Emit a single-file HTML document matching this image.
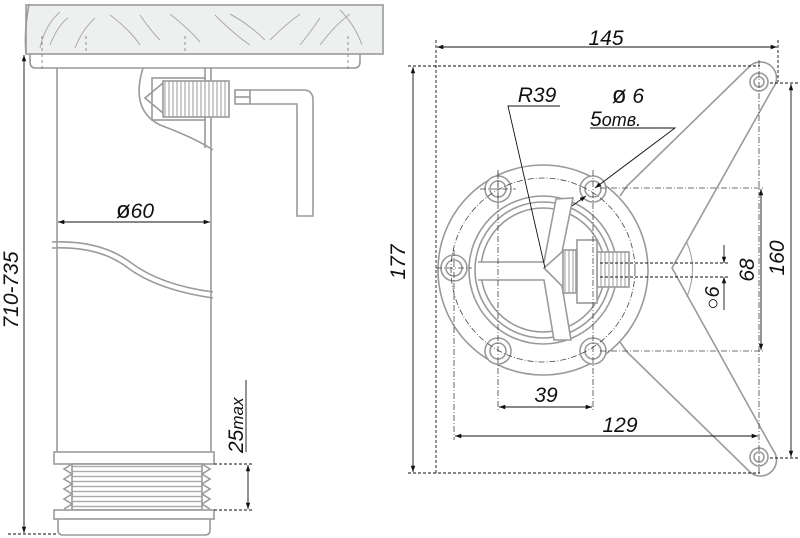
<!DOCTYPE html>
<html><head><meta charset="utf-8"><style>
html,body{margin:0;padding:0;background:#fff;}
svg{display:block;}
text{font-family:"Liberation Sans",sans-serif;font-style:italic;fill:#111;}
</style></head><body>
<svg width="800" height="538" viewBox="0 0 800 538" xmlns="http://www.w3.org/2000/svg">
<defs>
<marker id="a" viewBox="0 0 10 10" refX="10" refY="5" markerWidth="7" markerHeight="7" orient="auto-start-reverse"><path d="M0,1.5 L10,5 L0,8.5z" fill="#111"/></marker>
<pattern id="th" width="4" height="4" patternUnits="userSpaceOnUse"><rect width="4" height="4" fill="#fff"/><line x1="1" y1="0" x2="1" y2="4" stroke="#aaa" stroke-width="1.2"/></pattern>
<pattern id="thh" width="6" height="5" patternUnits="userSpaceOnUse"><rect width="6" height="5" fill="#fff"/><line x1="0" y1="1.5" x2="6" y2="1.5" stroke="#aaa" stroke-width="1.4"/></pattern>
</defs>
<g fill="none" stroke="#9a9a9a" stroke-width="1.6">
<rect x="26" y="5" width="357" height="49" fill="#eef0ef"/>
<path d="M29 4 Q24 30 26 54" />
<path d="M30 54 V62 Q30 68 36 68 H354 Q360 68 360 62 V54"/>
<g stroke="#aaa" stroke-width="1">
<path d="M40 48 Q45 25 60 12 M50 45 Q58 25 68 18 M75 48 Q82 30 95 18 M110 15 Q130 30 140 45 M140 15 Q150 30 160 40 M170 14 Q190 30 200 42 M215 15 Q235 35 250 45 M230 14 Q250 25 265 40 M270 40 Q285 25 300 14 M300 45 Q312 30 320 18 M320 45 Q335 25 350 14 M340 10 Q355 25 362 45"/>
</g>
<g stroke="#777" stroke-width="0.8" stroke-dasharray="3,3"><line x1="42" y1="36" x2="42" y2="72"/><line x1="86" y1="36" x2="86" y2="54"/><line x1="185" y1="36" x2="185" y2="54"/><line x1="348" y1="36" x2="348" y2="72"/></g>
<line x1="57" y1="68" x2="57" y2="452"/><line x1="211" y1="68" x2="211" y2="452"/>
<line x1="205" y1="68" x2="205" y2="148"/>
<path d="M143 68 Q130 110 160 125 Q195 138 213 150"/>
<rect x="152" y="78" width="53" height="42" fill="#fff"/>
<rect x="163" y="81" width="66" height="36" fill="url(#th)"/>
<path d="M163 83 L145 98 L163 113"/>
<rect x="235" y="90" width="15" height="14"/><line x1="235" y1="97" x2="250" y2="97"/>
<path d="M250 90 H303 Q313 90 313 100 V216 H297 V104 H250"/>
<path d="M52 242 Q100 240 130 262 Q160 285 213 292"/>
<path d="M52 248 Q100 246 128 268 Q158 290 213 298"/>
<rect x="54" y="452" width="160" height="12" fill="#fff"/>
<rect x="72" y="464" width="130" height="46" fill="url(#thh)"/>
<path d="M72 464 L64 469 L72 474 L64 479 L72 484 L64 489 L72 494 L64 499 L72 504 L64 509 M202 464 L210 469 L202 474 L210 479 L202 484 L210 489 L202 494 L210 499 L202 504 L210 509"/>
<rect x="54" y="510" width="160" height="9" fill="#fff"/>
<path d="M58 519 V530 Q58 535 63 535 H205 Q210 535 210 530 V519"/>
</g>
<g stroke="#111" stroke-width="0.9" fill="none">
<line x1="24" y1="55" x2="24" y2="533" marker-start="url(#a)" marker-end="url(#a)"/>
<line x1="58" y1="222" x2="210" y2="222" marker-start="url(#a)" marker-end="url(#a)"/>
<line x1="248" y1="465" x2="248" y2="509" marker-start="url(#a)" marker-end="url(#a)"/>
<line x1="246" y1="380" x2="246" y2="452"/>
<g stroke-dasharray="3,2"><line x1="214" y1="464" x2="254" y2="464"/><line x1="214" y1="510" x2="254" y2="510"/><line x1="8" y1="534" x2="58" y2="534"/></g>
</g>
<text x="135" y="218" font-size="21" text-anchor="middle"><tspan font-size="24" font-style="normal">ø</tspan>60</text>
<text transform="translate(18,290) rotate(-90)" font-size="21" text-anchor="middle">710-735</text>
<text transform="translate(243,453) rotate(-90)" font-size="21">25<tspan font-size="17">max</tspan></text>

<g fill="none" stroke="#9a9a9a" stroke-width="1.6">
<path d="M620 196 L627 186 L748 68 A15 15 0 0 1 773 88 L672 268 L773 450 A15 15 0 0 1 748 470 L627 352 L620 342" fill="#fff"/>
<circle cx="543" cy="270" r="105" fill="#fff"/>
<circle cx="759" cy="82" r="9"/><circle cx="759" cy="82" r="5"/>
<circle cx="759" cy="457" r="9"/><circle cx="759" cy="457" r="5"/>
<path d="M687 243 Q698 268 687 297" stroke-width="1"/>
<circle cx="543" cy="270" r="74"/><circle cx="543" cy="270" r="68"/><circle cx="543" cy="270" r="62"/>
<g fill="#fff">
<circle cx="454" cy="268" r="13"/><circle cx="454" cy="268" r="8"/>
<circle cx="498" cy="189" r="13"/><circle cx="498" cy="189" r="8"/>
<circle cx="593" cy="189" r="13"/><circle cx="593" cy="189" r="8"/>
<circle cx="498" cy="351" r="13"/><circle cx="498" cy="351" r="8"/>
<circle cx="593" cy="351" r="13"/><circle cx="593" cy="351" r="8"/>
</g>
<path d="M478 262 H544 L556 199 L573 198 L562 252 L544 268 L562 286 L571 340 L554 340 L544 280 H478" fill="#fff"/>
<rect x="563" y="250" width="13" height="43" fill="url(#th)"/>
<rect x="597" y="252" width="32" height="35" fill="url(#th)"/>
<rect x="577" y="240" width="20" height="63" fill="#fff"/>
</g>
<g stroke="#444" stroke-width="0.8" fill="none" stroke-dasharray="6,2,1,2">
<circle cx="543" cy="270" r="92"/>
<line x1="600" y1="188" x2="765" y2="188"/><line x1="600" y1="351" x2="765" y2="351"/>
<line x1="498" y1="170" x2="498" y2="410"/><line x1="593" y1="170" x2="593" y2="410"/>
<line x1="454" y1="250" x2="454" y2="440"/>
<line x1="759" y1="60" x2="759" y2="475"/>
<line x1="436" y1="268" x2="472" y2="268"/><line x1="480" y1="189" x2="516" y2="189"/><line x1="498" y1="172" x2="498" y2="206"/>
</g>
<g stroke="#111" stroke-width="0.9" fill="none">
<g stroke-dasharray="3,2">
<line x1="436" y1="40" x2="436" y2="474"/><line x1="778" y1="40" x2="778" y2="82"/>
<line x1="408" y1="66" x2="760" y2="66"/><line x1="408" y1="473" x2="760" y2="473"/>
<line x1="770" y1="83" x2="800" y2="83"/><line x1="770" y1="458" x2="800" y2="458"/>
<line x1="600" y1="263" x2="730" y2="263"/><line x1="600" y1="277" x2="730" y2="277"/>
</g>
<line x1="437" y1="47" x2="777" y2="47" marker-start="url(#a)" marker-end="url(#a)"/>
<line x1="413" y1="67" x2="413" y2="472" marker-start="url(#a)" marker-end="url(#a)"/>
<line x1="791" y1="84" x2="791" y2="457" marker-start="url(#a)" marker-end="url(#a)"/>
<line x1="761" y1="189" x2="761" y2="350" marker-start="url(#a)" marker-end="url(#a)"/>
<line x1="724" y1="245" x2="724" y2="263" marker-end="url(#a)"/>
<line x1="724" y1="310" x2="724" y2="277" marker-end="url(#a)"/>
<line x1="499" y1="407" x2="592" y2="407" marker-start="url(#a)" marker-end="url(#a)"/>
<line x1="455" y1="436" x2="758" y2="436" marker-start="url(#a)" marker-end="url(#a)"/>
<path d="M560 106 H508 L545 268"/>
<path d="M590 128 H675 L595 188" marker-end="url(#a)"/>
<line x1="586" y1="196" x2="572" y2="206" marker-start="url(#a)"/>
</g>
<text x="606" y="45" font-size="21" text-anchor="middle">145</text>
<text transform="translate(405,262) rotate(-90)" font-size="21" text-anchor="middle">177</text>
<text transform="translate(784,258) rotate(-90)" font-size="21" text-anchor="middle">160</text>
<text transform="translate(754,270) rotate(-90)" font-size="21" text-anchor="middle">68</text>
<text transform="translate(719,298) rotate(-90)" font-size="20" text-anchor="middle"><tspan font-style="normal">○</tspan>6</text>
<text x="546" y="402" font-size="21" text-anchor="middle">39</text>
<text x="620" y="432" font-size="21" text-anchor="middle">129</text>
<text x="537" y="102" font-size="21" text-anchor="middle">R39</text>
<text x="628" y="103" font-size="21" text-anchor="middle"><tspan font-size="24" font-style="normal">ø</tspan> 6</text>
<text x="590" y="126" font-size="21">5<tspan font-size="18">отв.</tspan></text>
</svg>
</body></html>
